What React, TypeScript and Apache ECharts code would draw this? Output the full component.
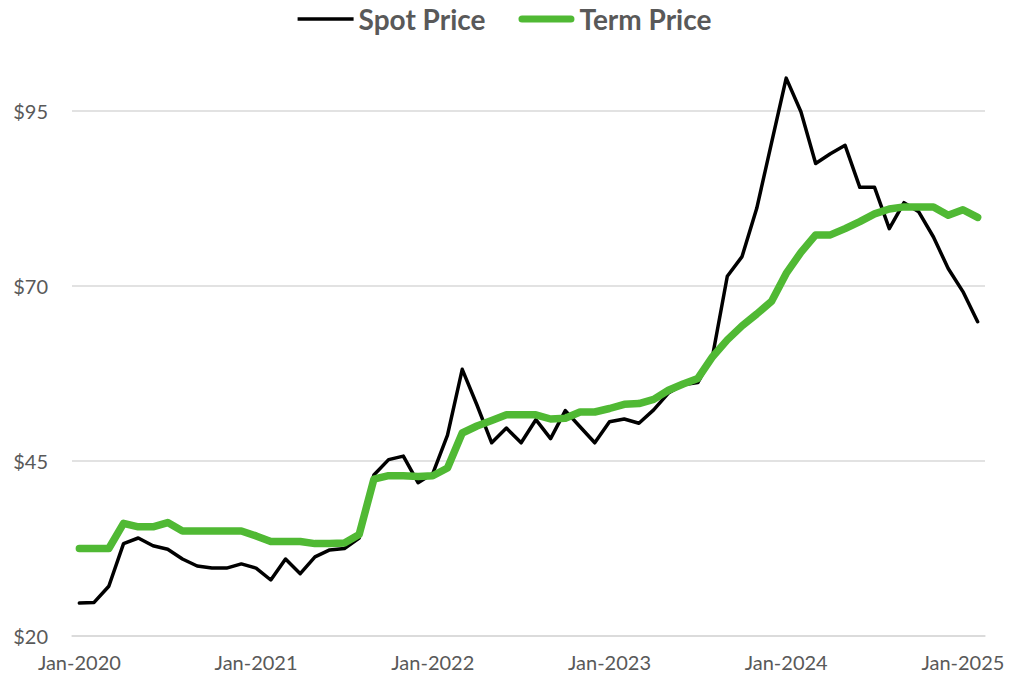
import React, { useEffect, useRef } from "react";
import * as echarts from "echarts";

const monthNames = ["Jan", "Feb", "Mar", "Apr", "May", "Jun", "Jul", "Aug", "Sep", "Oct", "Nov", "Dec"];
const years = [2020, 2021, 2022, 2023, 2024, 2025];

const spotPrice = [
  24.7, 24.8, 27.1, 33.2, 34.0, 32.9, 32.4, 31.0, 30.0, 29.7, 29.7, 30.3,
  29.7, 28.0, 31.0, 28.9, 31.3, 32.3, 32.5, 34.0, 43.0, 45.2, 45.7, 41.9,
  43.2, 48.7, 58.1, 53.0, 47.6, 49.7, 47.6, 50.9, 48.2, 52.2, 49.9, 47.6,
  50.6, 51.0, 50.4, 52.3, 54.7, 55.9, 56.2, 60.0, 71.4, 74.2, 81.1, 90.4,
  99.7, 94.9, 87.5, 88.9, 90.1, 84.1, 84.1, 78.2, 81.9, 80.6, 77.0, 72.5,
  69.2, 64.9,
];

const termPrice = [
  32.5, 32.5, 32.5, 36.1, 35.6, 35.6, 36.2, 35.0, 35.0, 35.0, 35.0, 35.0,
  34.3, 33.5, 33.5, 33.5, 33.2, 33.2, 33.3, 34.5, 42.4, 42.9, 42.9, 42.8,
  42.9, 44.0, 49.0, 50.0, 50.8, 51.6, 51.6, 51.6, 51.0, 51.1, 52.0, 52.0,
  52.5, 53.1, 53.2, 53.8, 55.1, 56.0, 56.8, 59.9, 62.3, 64.3, 66.0, 67.8,
  71.8, 74.8, 77.3, 77.3, 78.2, 79.2, 80.3, 81.0, 81.3, 81.3, 81.3, 80.1,
  80.9, 79.8,
];

const categories: string[] = [];
years.forEach((y) => monthNames.forEach((m) => categories.push(`${m}-${y}`)));
const months = categories.slice(0, spotPrice.length);

const yMin = 20;
const yMax = 95;
const yStep = 25;

const FONT = "Lato";
const LABEL_COLOR = "#595959";
const GRID_COLOR = "#d9d9d9";
const SPOT_COLOR = "#000000";
const TERM_COLOR = "#50B934";

const SPOT_ICON = "path://M0,0H53V3.5H0Z";
const TERM_ICON =
  "path://M3.75,0H55.25A3.75,3.75 0 0 1 55.25,7.5H3.75A3.75,3.75 0 0 1 3.75,0Z";

export default function App() {
  const ref = useRef<HTMLDivElement>(null);

  useEffect(() => {
    if (!ref.current) return;
    const chart = echarts.init(ref.current, null, { renderer: "svg" });
    chart.setOption({
      animation: false,
      backgroundColor: "#ffffff",
      legend: {
        top: 0,
        left: "center",
        itemWidth: 56,
        itemHeight: 14,
        itemGap: 33,
        symbolKeepAspect: true,
        textStyle: { fontFamily: FONT, fontSize: 28, fontWeight: "bold", color: LABEL_COLOR },
        data: [
          { name: "Spot Price", icon: SPOT_ICON, itemStyle: { color: SPOT_COLOR, borderWidth: 0 } },
          { name: "Term Price", icon: TERM_ICON, itemStyle: { color: TERM_COLOR, borderWidth: 0 } },
        ],
      },
      grid: { left: 72, right: 24, top: 111, bottom: 43, containLabel: false },
      xAxis: {
        type: "category",
        data: months,
        boundaryGap: true,
        axisLine: { show: true, lineStyle: { color: GRID_COLOR, width: 1.5 } },
        axisTick: { show: false },
        axisLabel: {
          interval: 11,
          margin: 16,
          fontFamily: FONT,
          fontSize: 20,
          color: LABEL_COLOR,
        },
        splitLine: { show: false },
      },
      yAxis: {
        type: "value",
        min: yMin,
        max: yMax,
        interval: yStep,
        axisLine: { show: false },
        axisTick: { show: false },
        axisLabel: {
          margin: 24,
          fontFamily: FONT,
          fontSize: 20,
          color: LABEL_COLOR,
          formatter: (v: number) => `$${v}`,
        },
        splitLine: { show: true, lineStyle: { color: GRID_COLOR, width: 1.5 } },
      },
      series: [
        {
          name: "Spot Price",
          type: "line",
          data: spotPrice,
          symbol: "none",
          clip: false,
          color: SPOT_COLOR,
          lineStyle: { color: SPOT_COLOR, width: 3.5, cap: "round", join: "round" },
        },
        {
          name: "Term Price",
          type: "line",
          data: termPrice,
          symbol: "none",
          clip: false,
          color: TERM_COLOR,
          lineStyle: { color: TERM_COLOR, width: 7.5, cap: "round", join: "round" },
        },
      ],
    });
    return () => chart.dispose();
  }, []);

  return (
    <div
      ref={ref}
      style={{ position: "absolute", left: 0, top: 0, width: 1009, height: 679 }}
    />
  );
}
